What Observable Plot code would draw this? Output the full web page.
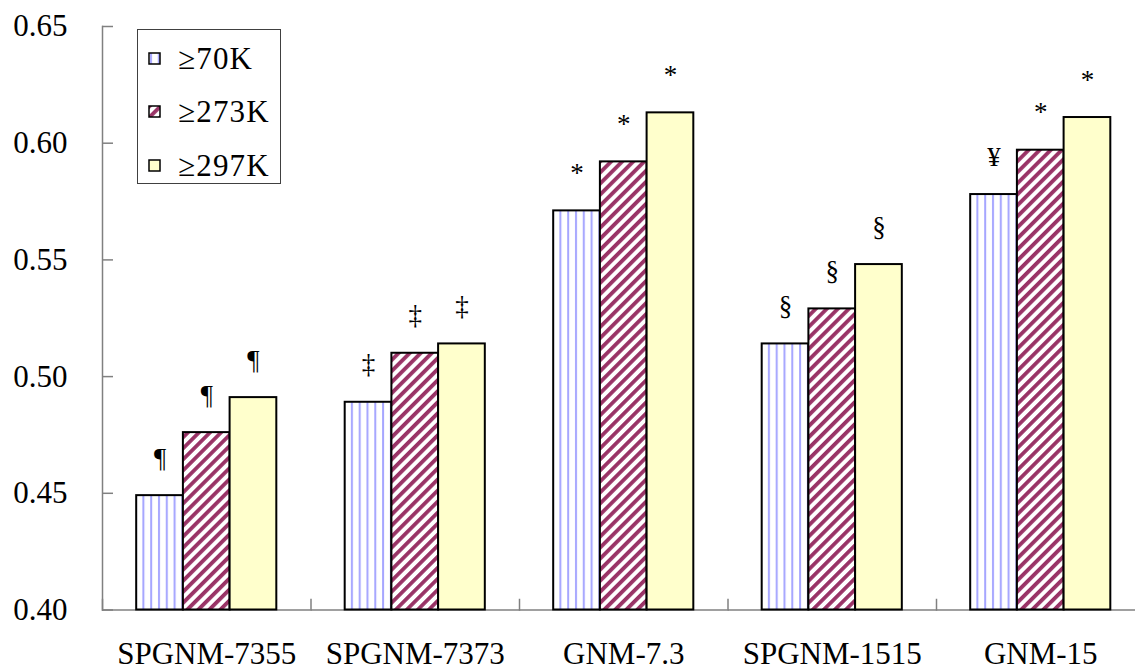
<!DOCTYPE html>
<html>
<head>
<meta charset="utf-8">
<script src="https://cdn.jsdelivr.net/npm/d3@7"></script>
<script src="https://cdn.jsdelivr.net/npm/@observablehq/plot@0.6"></script>
<style>
  html, body { margin: 0; padding: 0; background: #fff; }
  #chart { position: relative; width: 1135px; height: 671px; overflow: hidden;
           font-family: "Liberation Serif", "Times New Roman", serif; }
  #chart > svg.plot-root { position: absolute; left: 0; top: 0; }
  #legend { position: absolute; left: 137px; top: 29px; width: 144px; height: 155px;
            box-sizing: border-box; border: 1.5px solid #404040; background: #fff; }
  #legend .row { position: absolute; left: 0; height: 40px; margin-top: -20px;
                 display: flex; align-items: center; }
  #legend .sw { margin-left: 10px; width: 13px; height: 13px; display: block; }
  #legend .lab { margin-left: 17px; font-size: 31px; line-height: 1; color: #000; letter-spacing: 1.2px; }
</style>
</head>
<body>
<svg width="0" height="0" style="position:absolute">
  <defs>
    <pattern id="vstripe" patternUnits="userSpaceOnUse" width="7.8" height="10">
      <rect width="7.8" height="10" fill="#fff"/>
      <rect x="2" width="2" height="10" fill="#a6a6ff"/>
    </pattern>
    <pattern id="dstripe" patternUnits="userSpaceOnUse" width="7.8" height="10" patternTransform="rotate(45)">
      <rect width="7.8" height="10" fill="#fff"/>
      <rect width="3.8" height="10" fill="#993366"/>
    </pattern>
  </defs>
</svg>
<div id="chart"></div>
<script>
// Categories and series
const groups = ["SPGNM-7355", "SPGNM-7373", "GNM-7.3", "SPGNM-1515", "GNM-15"];
const series = ["≥70K", "≥273K", "≥297K"];

// Values per series, in group order
const values70 = [0.449, 0.489, 0.571, 0.514, 0.578];
const values273 = [0.476, 0.510, 0.592, 0.529, 0.597];
const values297 = [0.491, 0.514, 0.613, 0.548, 0.611];

// Significance markers above each bar
const notes70 = ["¶", "‡", "*", "§", "¥"];
const notes273 = ["¶", "‡", "*", "§", "*"];
const notes297 = ["¶", "‡", "*", "§", "*"];

// Y axis ticks
const yTicks = [0.40, 0.45, 0.50, 0.55, 0.60, 0.65];

const seriesValues = [values70, values273, values297];
const seriesNotes = [notes70, notes273, notes297];
const fills = ["url(#vstripe)", "url(#dstripe)", "#ffffcc"];

const rows = groups.flatMap((g, i) =>
  series.map((s, j) => ({group: g, series: s, value: seriesValues[j][i], note: seriesNotes[j][i]}))
);

const lineColor = "#808080";

const chart = Plot.plot({
  width: 1135,
  height: 671,
  marginLeft: 102,
  marginRight: -9.5,
  marginTop: 26,
  marginBottom: 61.5,
  style: {fontFamily: "'Liberation Serif', 'Times New Roman', serif", fontSize: "30px", background: "transparent", color: "#000"},
  fx: {domain: groups, padding: 0, round: false},
  x: {domain: series, paddingInner: 0, paddingOuter: 0.732, round: false, axis: null},
  y: {domain: [0.40, 0.65], axis: null},
  marks: [
    // baseline of the category axis
    Plot.ruleY([0.40], {stroke: lineColor, strokeWidth: 1.5}),
    // short separators between category groups
    Plot.frame({anchor: "left", insetTop: 573, stroke: lineColor, strokeWidth: 1.5}),
    // value axis line
    Plot.frame({anchor: "left", facetAnchor: "left", stroke: lineColor, strokeWidth: 1.5}),
    ...series.map((s, j) => Plot.barY(rows.filter(d => d.series === s), {
      fx: "group", x: "series", y1: 0.40, y2: "value",
      fill: fills[j], stroke: "#000", strokeWidth: 2
    })),
    Plot.text(rows, {
      fx: "group", x: "series", y: "value", text: "note",
      dy: -29, lineAnchor: "bottom", fontSize: 27, fill: "#000"
    }),
    Plot.axisY({
      ticks: yTicks, tickFormat: d => d.toFixed(2), tickSize: -11, tickPadding: 46,
      stroke: lineColor, strokeWidth: 1.5, fill: "#000", label: null, fontSize: 31
    }),
    Plot.axisFx({anchor: "bottom", tickSize: 0, tickPadding: 32, label: null, fontSize: 31, fill: "#000"})
  ]
});
chart.classList.add("plot-root");

const container = document.getElementById("chart");
container.appendChild(chart);

// Legend box
const legend = document.createElement("div");
legend.id = "legend";
const rowCenters = [28, 81.5, 135.5];
series.forEach((s, j) => {
  const row = document.createElement("div");
  row.className = "row";
  row.style.top = rowCenters[j] + "px";
  row.innerHTML =
    `<svg class="sw" width="13" height="13"><rect x="1" y="1" width="11" height="11" fill="${fills[j]}" stroke="#000" stroke-width="1.5"/></svg>` +
    `<span class="lab">${s}</span>`;
  legend.appendChild(row);
});
container.appendChild(legend);
</script>
</body>
</html>
